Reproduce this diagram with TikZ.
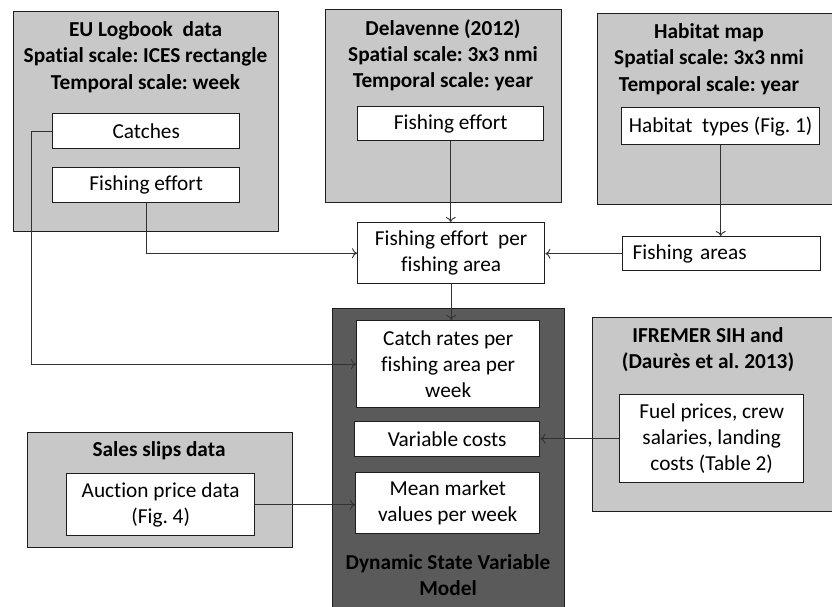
\documentclass[tikz,border=0pt]{standalone}
\usepackage{fontspec}
\setmainfont{Carlito}[Ligatures=NoCommon]
\usetikzlibrary{arrows.meta}
\definecolor{lightgr}{RGB}{200,200,200}
\definecolor{darkgr}{RGB}{90,90,90}
\definecolor{edgec}{RGB}{30,30,30}
\definecolor{linkc}{RGB}{50,50,50}
\frenchspacing
\begin{document}
\begin{tikzpicture}[x=1pt,y=-1pt,
  grp/.style={draw=edgec, fill=lightgr, line width=1.4pt, anchor=north west, inner sep=0pt},
  darkgrp/.style={grp, fill=darkgr},
  inbox/.style={draw=edgec, fill=white, line width=1.4pt, anchor=north west, inner sep=0pt, align=center, font=\fontsize{21.3}{26.2}\selectfont},
  ttl/.style={align=center, font=\bfseries\fontsize{21.3}{26.2}\selectfont, inner sep=0pt},
  link/.style={draw=linkc, line width=0.9pt, -{To[length=5pt,width=10pt]}}
]
\useasboundingbox (0,0) rectangle (832,606);
% group boxes
\node[grp, minimum width=265, minimum height=220] (eu) at (13,11) {};
\node[grp, minimum width=236, minimum height=193] (dela) at (325,9) {};
\node[grp, minimum width=240, minimum height=191] (hab) at (597,13) {};
\node[grp, minimum width=245, minimum height=194] (ifr) at (592,317) {};
\node[grp, minimum width=265, minimum height=115] (sales) at (27,432) {};
\node[darkgrp, minimum width=232, minimum height=300] (dsvm) at (332,308) {};
% titles
\node[ttl] (eut) at (145.5,57) {EU Logbook~ data\\Spatial scale: ICES rectangle\\Temporal scale: week};
\node[ttl] (delat) at (443,55) {Delavenne (2012)\\Spatial scale: 3x3 nmi\\Temporal scale: year};
\node[ttl] (habtt) at (709,59) {Habitat map\\Spatial scale: 3x3 nmi\\Temporal scale: year};
\node[ttl] (ifrt) at (708,350) {IFREMER SIH and\\(Daurès et al. 2013)};
\node[ttl] (salest) at (159,451) {Sales slips data};
\node[ttl] (dsvmt) at (448,575) {Dynamic State Variable\\Model};
% inner boxes
\node[inbox, minimum width=187, minimum height=35] (catches) at (52,113) {Catches};
\node[inbox, minimum width=187, minimum height=35] (fe1) at (52,167) {Fishing effort};
\node[inbox, minimum width=186, minimum height=34] (fe2) at (357,106) {Fishing effort};
\node[inbox, minimum width=198, minimum height=37] (habt) at (621,107) {Habitat~ types (Fig. 1)};
\node[inbox, minimum width=187, minimum height=61] (fepfa) at (357,222) {Fishing effort~ per\\fishing area};
\node[inbox, minimum width=198, minimum height=34, text width=178, align=left] (farea) at (622,236) {Fishing areas};
\node[inbox, minimum width=183, minimum height=87] (catchr) at (356,320) {Catch rates per\\fishing area per\\week};
\node[inbox, minimum width=185, minimum height=35] (varc) at (354,421) {Variable costs};
\node[inbox, minimum width=184, minimum height=61] (meanm) at (355,472) {Mean market\\values per week};
\node[inbox, minimum width=184, minimum height=88] (fuel) at (619,394) {Fuel prices, crew\\salaries, landing\\costs (Table 2)};
\node[inbox, minimum width=188, minimum height=62] (auct) at (66,473) {Auction price data\\(Fig. 4)};
% connectors
\draw[link] (catches.west) -- ++(-21,0) |- (catchr.west);
\draw[link] (fe1.south) |- (fepfa.west);
\draw[link] (fe2.south) -- (fe2.south |- fepfa.north);
\draw[link] (habt.south) -- (habt.south |- farea.north);
\draw[link] (farea.west) -- (farea.west -| fepfa.east);
\draw[link] (fepfa.south) -- (fepfa.south |- catchr.north);
\draw[link] (fuel.west) -- (fuel.west -| varc.east);
\draw[link] (auct.east) -- (auct.east -| meanm.west);
\end{tikzpicture}
\end{document}
